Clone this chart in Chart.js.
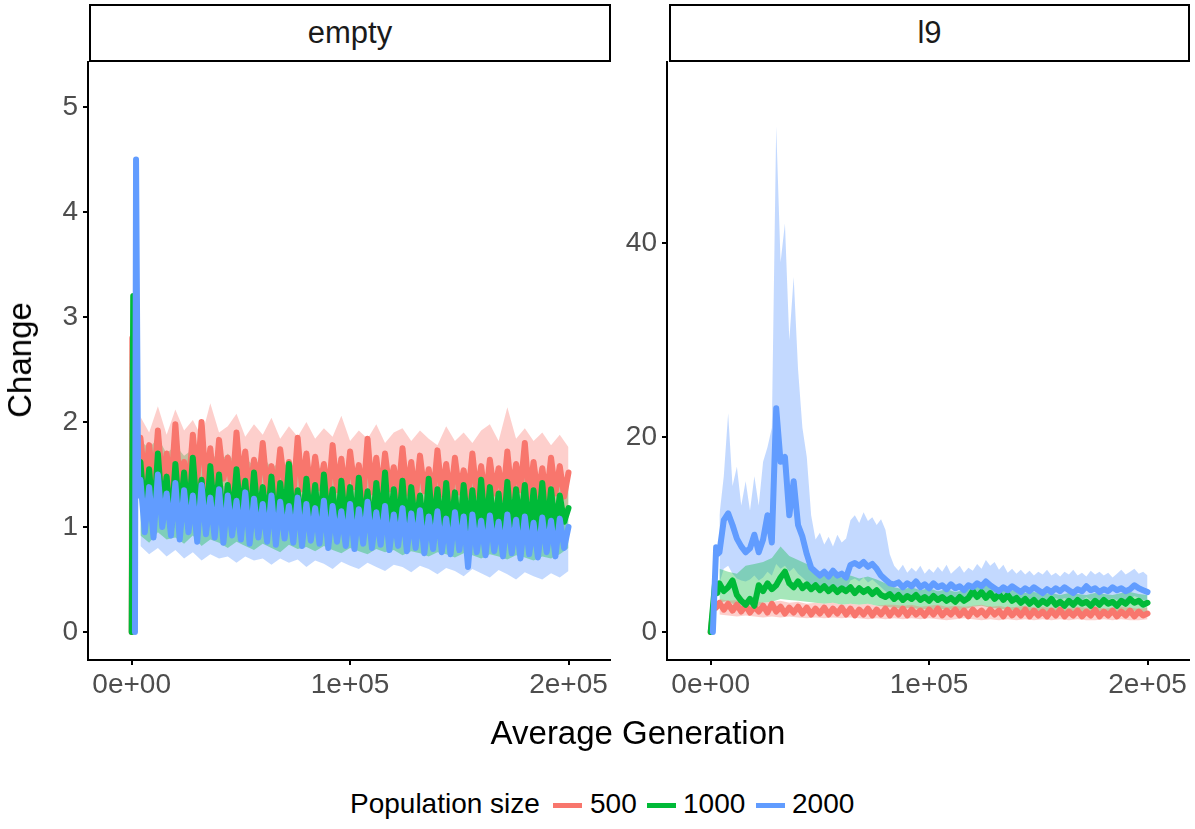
<!DOCTYPE html>
<html>
<head>
<meta charset="utf-8">
<script src="https://cdn.jsdelivr.net/npm/chart.js@4.4.1/dist/chart.umd.min.js"></script>
<style>
  body { margin: 0; background: #fff; width: 1195px; height: 829px; position: relative; overflow: hidden;
         font-family: "Liberation Sans", Arial, sans-serif; }
  canvas { position: absolute; top: 0; }
  .strip { position: absolute; top: 4px; height: 58px; box-sizing: border-box; border: 2px solid #000;
           display: flex; align-items: center; justify-content: center; font-size: 31px; color: #1a1a1a; }
  .title { position: absolute; font-size: 33px; color: #000; white-space: nowrap; }
  .legend { position: absolute; top: 788px; font-size: 28px; color: #000; white-space: nowrap; }
  .key { position: absolute; top: 803px; width: 29px; height: 5px; }
</style>
</head>
<body>
<div class="strip" style="left:89px;width:522px;">empty</div>
<div class="strip" style="left:669px;width:521px;">l9</div>
<canvas id="left" width="620" height="720" style="left:0"></canvas>
<canvas id="right" width="616" height="720" style="left:579px"></canvas>
<div class="title" style="left:638px;top:733px;transform:translate(-50%,-50%);">Average Generation</div>
<div class="title" style="left:20px;top:360px;transform:translate(-50%,-50%) rotate(-90deg);">Change</div>
<div class="legend" style="left:350px;">Population size</div>
<div class="key" style="left:553px;background:#F8766D"></div>
<div class="legend" style="left:590px;">500</div>
<div class="key" style="left:647px;background:#00BA38"></div>
<div class="legend" style="left:683px;">1000</div>
<div class="key" style="left:756px;background:#619CFF"></div>
<div class="legend" style="left:792px;">2000</div>
<script>
// sampling grids (generations)
const gens = [];
for (let g = 4000; g <= 200000; g += 2000) gens.push(g);
const ribGens = [];
for (let g = 4000; g <= 200000; g += 4000) ribGens.push(g);

const xTickValues = [0, 100000, 200000];
const xTickLabels = ['0e+00', '1e+05', '2e+05'];
const emptyYTicks = [0, 1, 2, 3, 4, 5];
const l9YTicks = [0, 20, 40];

// ---- panel "empty" ----
const emptyHeadGen500 = [0, 300, 2000];
const emptyHeadVal500 = [0, 2.8, 1.6];
const emptyHeadGen1000 = [0, 700, 2500];
const emptyHeadVal1000 = [0, 3.2, 1.5];
const emptyHeadGen2000 = [1500, 2000, 3000];
const emptyHeadVal2000 = [0, 4.5, 1.3];

const emptyMean500 = [
  1.85,1.45,1.78,1.38,1.92,1.42,1.70,1.35,1.98,1.40,
  1.62,1.36,1.88,1.44,2.00,1.39,1.75,1.33,1.83,1.46,
  1.66,1.34,1.90,1.41,1.72,1.30,1.64,1.38,1.80,1.35,
  1.58,1.32,1.74,1.40,1.62,1.29,1.85,1.36,1.70,1.31,
  1.67,1.37,1.60,1.28,1.78,1.35,1.65,1.30,1.72,1.38,
  1.59,1.27,1.84,1.33,1.66,1.29,1.70,1.36,1.57,1.30,
  1.75,1.32,1.62,1.27,1.68,1.34,1.55,1.28,1.73,1.31,
  1.60,1.26,1.66,1.33,1.54,1.29,1.70,1.30,1.58,1.25,
  1.64,1.32,1.56,1.27,1.72,1.30,1.60,1.35,1.80,1.28,
  1.62,1.30,1.56,1.27,1.66,1.32,1.58,1.29,1.52
];
const emptyMean1000 = [
  1.62,1.12,1.55,1.05,1.70,1.15,1.48,0.98,1.60,1.10,
  1.52,1.06,1.66,1.12,1.45,1.02,1.58,1.08,1.50,1.00,
  1.40,1.04,1.55,1.10,1.44,0.98,1.52,1.06,1.38,1.02,
  1.48,0.95,1.42,1.05,1.60,1.00,1.35,0.96,1.46,1.03,
  1.40,0.94,1.50,1.02,1.36,0.92,1.44,1.00,1.38,0.95,
  1.47,0.98,1.34,0.93,1.42,1.00,1.52,0.94,1.36,0.97,
  1.44,0.92,1.38,0.99,1.30,0.91,1.46,0.96,1.36,0.93,
  1.42,0.95,1.33,0.90,1.40,0.97,1.35,0.92,1.45,0.94,
  1.38,0.96,1.32,0.91,1.43,0.95,1.36,0.99,1.40,0.93,
  1.35,0.97,1.42,0.94,1.36,0.98,1.30,1.05,1.18
];
const emptyMean2000 = [
  1.45,0.95,1.38,0.90,1.50,1.00,1.32,0.92,1.42,0.88,
  1.35,0.95,1.30,0.86,1.40,0.93,1.28,0.90,1.36,0.85,
  1.30,0.92,1.25,0.88,1.33,0.84,1.27,0.90,1.22,0.86,
  1.30,0.83,1.24,0.89,1.20,0.85,1.28,0.82,1.22,0.87,
  1.18,0.84,1.25,0.80,1.20,0.86,1.15,0.82,1.22,0.79,
  1.17,0.84,1.24,0.80,1.14,0.83,1.20,0.78,1.12,0.82,
  1.18,0.77,1.13,0.80,1.16,0.75,1.10,0.79,1.15,0.76,
  1.08,0.74,1.14,0.78,1.10,0.62,1.12,0.76,1.06,0.73,
  1.11,0.77,1.05,0.72,1.12,0.75,1.07,0.70,1.10,0.74,
  1.04,0.71,1.09,0.76,1.06,0.72,1.08,0.80,1.00
];
const emptyHi500 = [
  2.05,1.90,2.15,1.88,2.12,1.92,2.02,1.86,2.18,1.90,
  1.96,2.08,1.86,1.98,1.88,2.04,1.84,1.96,1.86,2.00,
  1.84,1.94,1.86,2.06,1.82,1.92,1.84,1.98,1.80,1.90,
  1.94,1.82,1.92,1.84,1.78,1.96,1.82,1.90,1.80,1.92,
  1.98,1.82,2.14,1.84,1.94,1.82,1.90,1.78,1.88,1.76
];
const emptyLo500 = [
  1.30,1.28,1.25,1.27,1.24,1.26,1.22,1.25,1.23,1.21,
  1.24,1.20,1.22,1.19,1.23,1.20,1.18,1.21,1.19,1.17,
  1.20,1.18,1.16,1.19,1.17,1.15,1.18,1.16,1.14,1.17,
  1.15,1.13,1.16,1.14,1.12,1.15,1.13,1.11,1.14,1.12,
  1.15,1.12,1.10,1.13,1.11,1.14,1.12,1.10,1.13,1.15
];
const emptyHi1000 = [
  1.82,1.75,1.85,1.70,1.78,1.68,1.74,1.65,1.72,1.62,
  1.70,1.60,1.66,1.58,1.68,1.56,1.62,1.55,1.64,1.53,
  1.60,1.52,1.58,1.50,1.62,1.50,1.56,1.48,1.58,1.47,
  1.54,1.46,1.56,1.45,1.52,1.44,1.55,1.44,1.50,1.46,
  1.53,1.43,1.52,1.45,1.50,1.42,1.54,1.44,1.50,1.45
];
const emptyLo1000 = [
  0.92,0.85,0.95,0.88,0.90,0.84,0.92,0.82,0.88,0.85,
  0.80,0.86,0.82,0.78,0.84,0.80,0.76,0.83,0.79,0.81,
  0.77,0.82,0.78,0.75,0.80,0.77,0.74,0.79,0.76,0.78,
  0.73,0.77,0.75,0.72,0.76,0.74,0.71,0.75,0.73,0.70,
  0.74,0.72,0.69,0.73,0.71,0.68,0.72,0.70,0.74,0.80
];
const emptyHi2000 = [
  1.55,1.50,1.52,1.46,1.48,1.44,1.45,1.40,1.42,1.38,
  1.40,1.36,1.38,1.34,1.36,1.32,1.35,1.30,1.33,1.28,
  1.30,1.27,1.29,1.25,1.27,1.24,1.26,1.22,1.24,1.21,
  1.23,1.20,1.22,1.19,1.21,1.18,1.20,1.17,1.19,1.16,
  1.18,1.15,1.17,1.14,1.16,1.15,1.17,1.14,1.15,1.12
];
const emptyLo2000 = [
  0.82,0.74,0.80,0.72,0.78,0.70,0.76,0.68,0.74,0.70,
  0.72,0.66,0.72,0.68,0.70,0.64,0.70,0.66,0.69,0.62,
  0.68,0.65,0.60,0.67,0.63,0.60,0.66,0.62,0.58,0.64,
  0.62,0.57,0.63,0.60,0.55,0.61,0.58,0.53,0.60,0.56,
  0.52,0.59,0.55,0.50,0.57,0.53,0.50,0.56,0.52,0.58
];

// ---- panel "l9" ----
const l9HeadGen500 = [0, 1500, 2500];
const l9HeadVal500 = [0, 3.0, 2.5];
const l9HeadGen1000 = [0, 2000, 3000];
const l9HeadVal1000 = [0, 5.0, 4.0];
const l9HeadGen2000 = [1000, 2500, 3000];
const l9HeadVal2000 = [0, 8.7, 8.0];

const l9Mean500 = [
  3.0,2.3,2.9,2.2,2.8,2.1,2.7,2.0,2.6,2.1,
  2.7,2.0,2.9,2.1,2.6,1.9,2.5,2.0,2.6,1.9,
  2.5,1.8,2.4,1.9,2.5,1.8,2.4,1.9,2.5,1.8,
  2.4,1.7,2.3,1.8,2.4,1.7,2.3,1.8,2.4,1.7,
  2.3,1.8,2.4,1.7,2.3,1.8,2.2,1.7,2.3,1.8,
  2.4,1.7,2.2,1.8,2.3,1.7,2.2,1.6,2.3,1.8,
  2.2,1.7,2.3,1.8,2.2,1.6,2.3,1.7,2.2,1.7,
  2.3,1.6,2.2,1.7,2.1,1.6,2.2,1.7,2.3,1.6,
  2.1,1.7,2.2,1.6,2.1,1.7,2.3,1.6,2.1,1.7,
  2.2,1.6,2.1,1.7,2.2,1.6,2.1,1.7,1.9
];
const l9Mean1000 = [
  5.0,4.2,4.6,5.3,3.8,3.2,2.8,3.4,2.7,4.8,
  4.2,5.0,4.4,4.8,5.6,6.2,5.0,4.6,5.2,4.5,
  4.9,4.4,4.8,4.3,4.7,4.2,4.6,4.1,4.5,4.2,
  4.6,4.0,4.5,4.1,4.4,3.9,4.3,3.8,3.6,3.9,
  3.4,3.8,3.3,3.7,3.4,3.8,3.3,3.6,3.2,3.7,
  3.3,3.6,3.2,3.5,3.1,3.6,3.2,3.5,4.2,3.6,
  4.1,3.5,4.0,3.4,3.9,3.3,3.8,3.2,3.5,3.0,
  3.4,2.9,3.3,2.8,3.2,2.9,3.4,2.8,3.1,2.7,
  3.2,2.8,3.3,2.9,3.1,2.7,3.2,2.8,3.3,2.9,
  3.1,2.7,3.2,2.9,3.4,3.0,3.2,2.8,3.0
];
const l9Mean2000 = [
  8.2,11.5,12.2,11.0,9.6,8.8,8.2,8.6,10.0,8.2,
  9.5,12.0,9.2,23.0,17.5,18.0,12.0,15.5,11.0,9.8,
  8.0,6.6,6.2,5.8,6.2,5.7,6.3,5.8,6.0,5.6,
  6.9,7.1,6.8,7.2,6.7,7.0,6.5,5.8,5.4,5.0,
  4.9,5.1,4.6,5.0,4.7,5.2,4.6,4.9,4.5,5.0,
  4.6,4.8,4.4,4.9,4.5,4.7,4.3,4.8,4.6,5.0,
  4.7,5.2,4.8,4.5,4.2,4.6,4.3,4.7,4.4,4.1,
  4.5,4.2,4.6,4.3,4.0,4.4,4.1,4.5,4.2,4.6,
  4.3,4.0,4.4,4.2,4.7,4.3,4.5,4.1,4.4,4.2,
  4.6,4.3,4.5,4.2,4.4,4.8,4.5,4.3,4.1
];
const l9Hi500 = [
  3.4,3.2,3.3,3.1,3.2,3.0,3.1,3.2,3.0,3.1,
  2.9,3.0,2.9,3.0,2.8,2.9,2.8,2.9,2.7,2.8,
  2.8,2.7,2.8,2.6,2.7,2.8,2.6,2.7,2.6,2.7,
  2.8,2.6,2.7,2.5,2.6,2.7,2.5,2.6,2.5,2.6,
  2.5,2.6,2.5,2.6,2.4,2.5,2.6,2.5,2.4,2.5
];
const l9Lo500 = [
  1.8,1.7,1.6,1.7,1.6,1.5,1.6,1.5,1.6,1.5,
  1.4,1.5,1.4,1.5,1.4,1.5,1.4,1.3,1.4,1.3,
  1.4,1.3,1.4,1.3,1.4,1.3,1.2,1.3,1.4,1.3,
  1.2,1.3,1.2,1.3,1.2,1.3,1.2,1.3,1.2,1.3,
  1.2,1.3,1.2,1.2,1.3,1.2,1.3,1.2,1.2,1.3
];
const l9Hi1000 = [
  6.5,6.2,6.0,6.8,7.0,7.2,7.6,8.8,7.8,7.4,
  7.0,6.0,5.8,6.0,5.6,5.8,5.5,5.7,5.4,5.0,
  4.6,4.4,4.6,4.3,4.5,4.2,4.4,4.1,4.3,4.8,
  4.9,4.7,4.6,4.4,4.2,4.0,4.1,3.9,4.0,3.8,
  4.0,3.9,3.8,4.0,3.9,3.8,4.0,4.1,3.9,3.8
];
const l9Lo1000 = [
  3.0,3.2,2.6,2.2,2.4,3.0,3.1,3.4,3.3,3.2,
  3.1,3.0,2.9,3.0,2.8,2.9,2.8,2.9,2.7,2.6,
  2.5,2.4,2.5,2.3,2.4,2.3,2.4,2.2,2.3,2.6,
  2.7,2.5,2.4,2.3,2.2,2.1,2.2,2.0,2.1,2.0,
  2.1,2.0,2.0,2.1,2.0,2.0,2.1,2.2,2.1,2.0
];
// blue ribbon in l9 is sampled on the finer grid
const l9Hi2000 = [
  12,16,22.5,15,17,13,15.5,12.5,16,13,
  17.5,19,21,52,38,42,30,36.5,27,21,
  18,12,9.5,10.2,9.0,9.8,8.8,10.0,9.2,9.6,
  11.5,12.0,11.2,12.3,11.4,11.8,11.0,11.6,10.5,8.0,
  6.8,6.3,6.9,6.1,6.6,6.2,6.8,6.0,6.5,6.1,
  6.7,6.2,6.9,6.0,6.4,6.8,6.1,6.6,6.3,7.0,
  6.5,7.4,6.8,7.2,6.4,6.9,6.1,6.5,6.0,6.4,
  5.9,6.3,5.8,6.2,5.9,6.4,5.8,6.1,5.7,6.2,
  5.9,6.4,5.8,6.1,5.7,6.3,5.9,6.2,5.8,6.1,
  5.6,6.0,6.4,5.9,6.2,6.5,6.0,6.2,5.8
];
const l9Lo2000 = [
  5.0,6.5,6.8,6.0,5.5,5.3,5.2,5.4,5.8,5.3,
  5.6,6.2,5.8,7.0,6.5,6.8,6.2,6.6,6.0,5.6,
  5.2,4.8,4.6,4.5,4.7,4.4,4.6,4.5,4.6,4.4,
  5.3,5.5,5.2,5.6,5.1,5.4,5.0,4.6,4.2,3.9,
  3.8,3.9,3.6,3.8,3.7,3.9,3.6,3.8,3.5,3.8,
  3.6,3.7,3.4,3.7,3.5,3.6,3.3,3.7,3.5,3.8,
  3.6,3.9,3.7,3.5,3.3,3.5,3.3,3.6,3.4,3.2,
  3.5,3.3,3.5,3.3,3.1,3.4,3.2,3.5,3.3,3.5,
  3.3,3.1,3.4,3.2,3.6,3.3,3.5,3.2,3.4,3.3,
  3.5,3.3,3.5,3.2,3.4,3.7,3.5,3.3,3.2
];

const lineColors = ['#F8766D', '#00BA38', '#619CFF'];
const ribbonColors = ['rgba(248,118,109,0.35)', 'rgba(0,186,56,0.35)', 'rgba(97,156,255,0.38)'];
const fontFamily = '"Liberation Sans", Arial, sans-serif';

function pts(xs, ys) {
  return ys.map((y, i) => ({ x: xs[i], y: y }));
}

function buildDatasets(series) {
  const ds = [];
  series.forEach((s, k) => {
    ds.push({ data: pts(s.ribX, s.hi), borderColor: 'rgba(0,0,0,0)', borderWidth: 0, pointRadius: 0,
              backgroundColor: ribbonColors[k], fill: '+1', order: 10 });
    ds.push({ data: pts(s.ribX, s.lo), borderColor: 'rgba(0,0,0,0)', borderWidth: 0, pointRadius: 0,
              fill: false, order: 10 });
  });
  series.forEach((s, k) => {
    ds.push({ data: pts(s.headX.concat(gens), s.headY.concat(s.mean)), borderColor: lineColors[k],
              borderWidth: 6, pointRadius: 0, fill: false, order: 3 - k,
              borderJoinStyle: 'round', borderCapStyle: 'round' });
  });
  return ds;
}

function makePanel(id, padRight, yMin, yMax, yTicks, series) {
  new Chart(document.getElementById(id), {
    type: 'line',
    data: { datasets: buildDatasets(series) },
    options: {
      responsive: false,
      animation: false,
      devicePixelRatio: 1,
      layout: { padding: { left: 0, top: 62, right: padRight, bottom: 0 } },
      plugins: { legend: { display: false }, tooltip: { enabled: false } },
      scales: {
        x: {
          type: 'linear', min: -20000, max: 219000,
          afterFit: (s) => { s.height = 60; },
          afterBuildTicks: (s) => { s.ticks = xTickValues.map(v => ({ value: v })); },
          border: { display: true, color: '#000', width: 2 },
          grid: { display: true, drawOnChartArea: false, drawTicks: true, tickLength: 5, color: '#000', lineWidth: 2 },
          ticks: {
            autoSkip: false, maxRotation: 0, padding: 3,
            color: '#4D4D4D', font: { family: fontFamily, size: 28 },
            callback: (v) => { const i = xTickValues.indexOf(v); return i >= 0 ? xTickLabels[i] : ''; }
          }
        },
        y: {
          type: 'linear', min: yMin, max: yMax,
          afterFit: (s) => { s.width = 88; },
          afterBuildTicks: (s) => { s.ticks = yTicks.map(v => ({ value: v })); },
          border: { display: true, color: '#000', width: 2 },
          grid: { display: true, drawOnChartArea: false, drawTicks: true, tickLength: 5, color: '#000', lineWidth: 2 },
          ticks: {
            autoSkip: false, padding: 5,
            color: '#4D4D4D', font: { family: fontFamily, size: 28 },
            callback: (v) => String(v)
          }
        }
      }
    }
  });
}

makePanel('left', 10, -0.267, 5.43, emptyYTicks, [
  { headX: emptyHeadGen500, headY: emptyHeadVal500, mean: emptyMean500, ribX: ribGens, hi: emptyHi500, lo: emptyLo500 },
  { headX: emptyHeadGen1000, headY: emptyHeadVal1000, mean: emptyMean1000, ribX: ribGens, hi: emptyHi1000, lo: emptyLo1000 },
  { headX: emptyHeadGen2000, headY: emptyHeadVal2000, mean: emptyMean2000, ribX: ribGens, hi: emptyHi2000, lo: emptyLo2000 }
]);

makePanel('right', 6, -2.88, 58.6, l9YTicks, [
  { headX: l9HeadGen500, headY: l9HeadVal500, mean: l9Mean500, ribX: ribGens, hi: l9Hi500, lo: l9Lo500 },
  { headX: l9HeadGen1000, headY: l9HeadVal1000, mean: l9Mean1000, ribX: ribGens, hi: l9Hi1000, lo: l9Lo1000 },
  { headX: l9HeadGen2000, headY: l9HeadVal2000, mean: l9Mean2000, ribX: gens, hi: l9Hi2000, lo: l9Lo2000 }
]);
</script>
</body>
</html>
